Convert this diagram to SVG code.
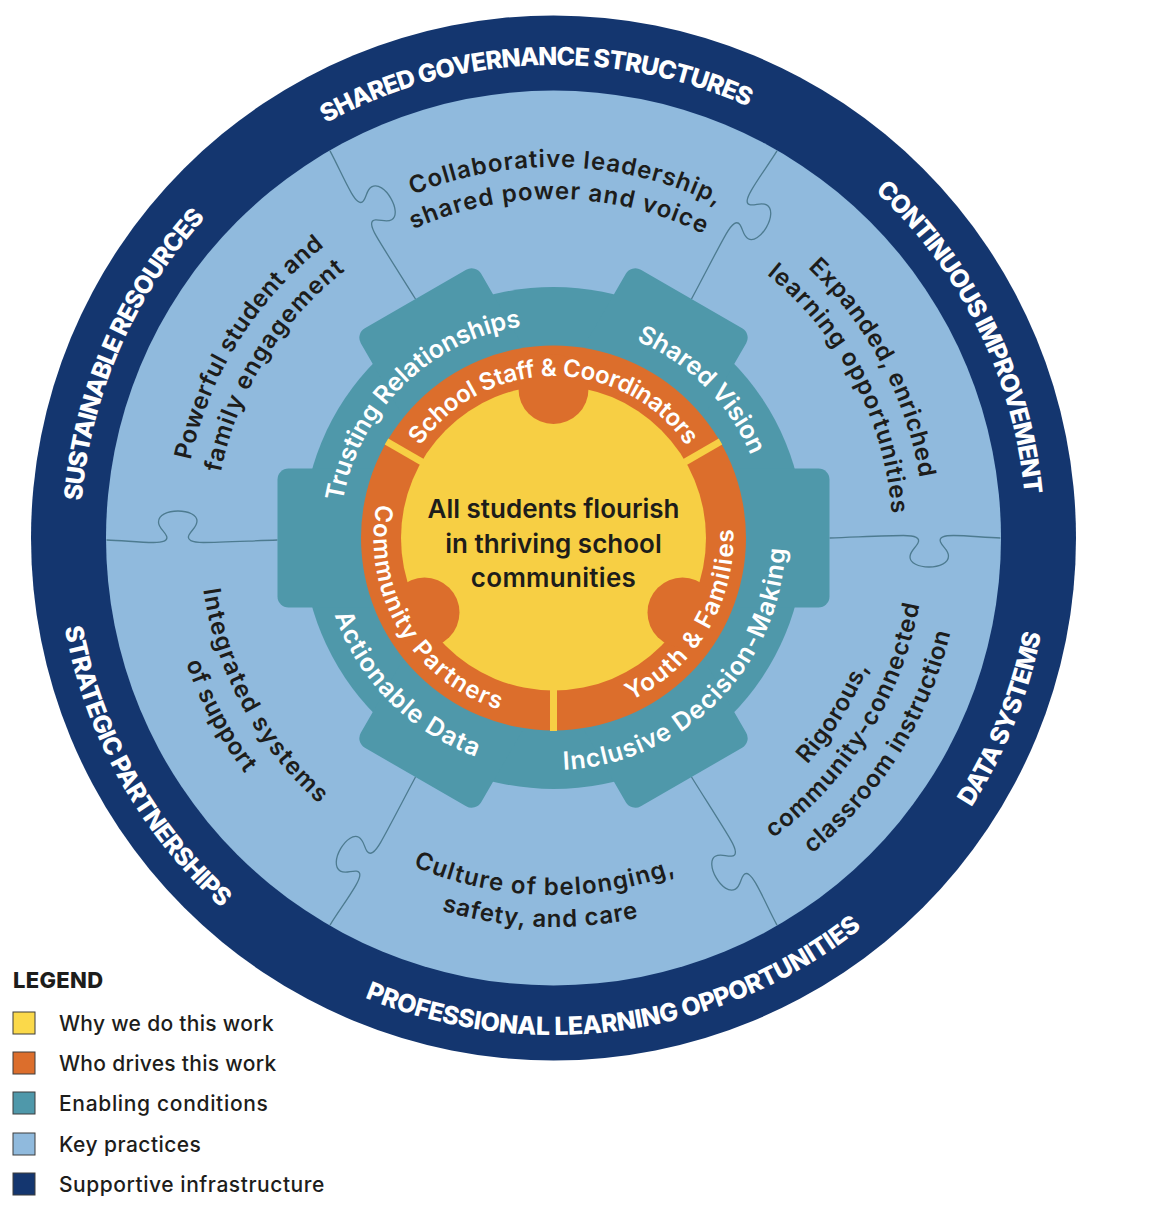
<svg xmlns="http://www.w3.org/2000/svg" xmlns:xlink="http://www.w3.org/1999/xlink" width="1167" height="1229" viewBox="0 0 1167 1229">
<style>
text{font-family:Inter,"Liberation Sans",sans-serif;text-anchor:middle}
.outer{font-size:25px;font-weight:800;fill:#fff;letter-spacing:-1px}
.prac{font-size:24px;font-weight:600;fill:#1d1d1b;letter-spacing:.6px}
.gear{font-size:25px;font-weight:600;fill:#fff;letter-spacing:-.1px}
.who{font-size:24px;font-weight:600;fill:#fff;letter-spacing:-.3px}
.core{font-size:26px;font-weight:600;fill:#1d1d1b}
.leg{font-size:21px;font-weight:500;fill:#1d1d1b;text-anchor:start;letter-spacing:.3px}
.sw{stroke:#3d3d3d;stroke-width:1}
.seam{fill:none;stroke:#4d7b90;stroke-width:1.3}
</style>
<defs>
<path id="c473" d="M80.5 538A473 473 0 0 1 1026.5 538"/>
<path id="a497" d="M56.5 538A497 497 0 0 0 1050.5 538"/>
<path id="c371" d="M182.5 538A371 371 0 0 1 924.5 538"/>
<path id="c339" d="M214.5 538A339 339 0 0 1 892.5 538"/>
<path id="a340" d="M213.5 538A340 340 0 0 0 893.5 538"/>
<path id="a372" d="M181.5 538A372 372 0 0 0 925.5 538"/>
<path id="a408" d="M145.5 538A408 408 0 0 0 961.5 538"/>
<path id="a357" d="M196.5 538A357 357 0 0 0 910.5 538"/>
<path id="a389" d="M164.5 538A389 389 0 0 0 942.5 538"/>
<path id="a354" d="M199.5 538A354 354 0 0 0 907.5 538"/>
<path id="a388" d="M165.5 538A388 388 0 0 0 941.5 538"/>
<path id="c214" d="M339.5 538A214 214 0 0 1 767.5 538"/>
<path id="a232" d="M321.5 538A232 232 0 0 0 785.5 538"/>
<path id="c162" d="M391.5 538A162 162 0 0 1 715.5 538"/>
<path id="a180" d="M373.5 538A180 180 0 0 0 733.5 538"/>
<rect id="tooth" x="0" y="-69.5" width="276" height="139" rx="11"/>
<path id="seam" d="M276 0C305-1 335-2.5 350-2.5C362-2.5 367 0 364.5 5C362 10 356.5 13 356.5 19C356.5 25 365 29 375.5 29C386 29 395 25 395 18C395 12 389 9 387 4C385-1 391-2.5 400-2.5C415-2.5 430-.5 447 0"/>
</defs>
<g id="infrastructure-ring">
<circle cx="553.5" cy="538" r="522.5" fill="#14366f"/>
<text class="outer" transform="rotate(-2.3 553.5 538)"><textPath href="#c473" startOffset="50%">SHARED GOVERNANCE STRUCTURES</textPath></text>
<text class="outer" style="letter-spacing:-1.1px" transform="rotate(63.7 553.5 538)"><textPath href="#c473" startOffset="50%">CONTINUOUS IMPROVEMENT</textPath></text>
<text class="outer" transform="rotate(-66.5 553.5 538)"><textPath href="#c473" startOffset="50%">SUSTAINABLE RESOURCES</textPath></text>
<text class="outer" style="letter-spacing:-.8px" transform="rotate(-68 553.5 538)"><textPath href="#a497" startOffset="50%">DATA SYSTEMS</textPath></text>
<text class="outer" style="letter-spacing:-.4px" transform="rotate(-8 553.5 538)"><textPath href="#a497" startOffset="50%">PROFESSIONAL LEARNING OPPORTUNITIES</textPath></text>
<text class="outer" style="letter-spacing:-.7px" transform="rotate(60.8 553.5 538)"><textPath href="#a497" startOffset="50%">STRATEGIC PARTNERSHIPS</textPath></text>
</g>
<g id="practices-disc"><circle cx="553.5" cy="538" r="447.5" fill="#90badd"/></g>
<g id="connectors" class="seam" transform="translate(553.5 538)">
<use href="#seam"/><use href="#seam" transform="rotate(60)"/><use href="#seam" transform="rotate(120)"/><use href="#seam" transform="rotate(180) translate(0 -2)"/><use href="#seam" transform="rotate(240)"/><use href="#seam" transform="rotate(300)"/>
</g>
<g id="practice-collaborative">
<text class="prac" style="letter-spacing:1px" transform="rotate(2 553.5 538)"><textPath href="#c371" startOffset="50%">Collaborative leadership,</textPath></text>
<text class="prac" style="letter-spacing:1.1px" transform="rotate(1 553.5 538)"><textPath href="#c339" startOffset="50%">shared power and voice</textPath></text>
</g>
<g id="practice-expanded">
<text class="prac" transform="rotate(62 553.5 538)"><textPath href="#c371" startOffset="50%">Expanded, enriched</textPath></text>
<text class="prac" style="letter-spacing:1px" transform="rotate(62.5 553.5 538)"><textPath href="#c339" startOffset="50%">learning opportunities</textPath></text>
</g>
<g id="practice-rigorous">
<text class="prac" transform="rotate(-58 553.5 538)"><textPath href="#a340" startOffset="50%">Rigorous,</textPath></text>
<text class="prac" style="letter-spacing:1px" transform="rotate(-58 553.5 538)"><textPath href="#a372" startOffset="50%">community-connected</textPath></text>
<text class="prac" style="letter-spacing:.7px" transform="rotate(-58 553.5 538)"><textPath href="#a408" startOffset="50%">classroom instruction</textPath></text>
</g>
<g id="practice-culture">
<text class="prac" style="letter-spacing:1.2px" transform="rotate(1.5 553.5 538)"><textPath href="#a357" startOffset="50%">Culture of belonging,</textPath></text>
<text class="prac" style="letter-spacing:.9px" transform="rotate(2 553.5 538)"><textPath href="#a389" startOffset="50%">safety, and care</textPath></text>
</g>
<g id="practice-integrated">
<text class="prac" style="letter-spacing:1.5px" transform="rotate(61.4 553.5 538)"><textPath href="#a354" startOffset="50%">Integrated systems</textPath></text>
<text class="prac" transform="rotate(61.9 553.5 538)"><textPath href="#a388" startOffset="50%">of support</textPath></text>
</g>
<g id="practice-powerful">
<text class="prac" style="letter-spacing:.5px" transform="rotate(-58 553.5 538)"><textPath href="#c371" startOffset="50%">Powerful student and</textPath></text>
<text class="prac" style="letter-spacing:1.2px" transform="rotate(-58.3 553.5 538)"><textPath href="#c339" startOffset="50%">family engagement</textPath></text>
</g>
<g id="conditions-gear">
<g fill="#4f98aa">
<circle cx="553.5" cy="538" r="251"/>
<g transform="translate(553.5 538)"><use href="#tooth"/><use href="#tooth" transform="rotate(60)"/><use href="#tooth" transform="rotate(120)"/><use href="#tooth" transform="rotate(180)"/><use href="#tooth" transform="rotate(240)"/><use href="#tooth" transform="rotate(300)"/></g>
</g>
<text class="gear" transform="rotate(-44.5 553.5 538)"><textPath href="#c214" startOffset="50%">Trusting Relationships</textPath></text>
<text class="gear" transform="rotate(45 553.5 538)"><textPath href="#c214" startOffset="50%">Shared Vision</textPath></text>
<text class="gear" style="letter-spacing:1px" transform="rotate(-45 553.5 538)"><textPath href="#a232" startOffset="50%">Inclusive Decision-Making</textPath></text>
<text class="gear" style="letter-spacing:1.1px" transform="rotate(44.9 553.5 538)"><textPath href="#a232" startOffset="50%">Actionable Data</textPath></text>
</g>
<g id="drivers-ring">
<circle cx="553.5" cy="538" r="192.5" fill="#dc6e2c"/>
<g stroke="#f7cf44" stroke-width="7"><path d="M553.5 538V731"/><path d="M553.5 538L720.5 441.5"/><path d="M553.5 538L386.5 441.5"/></g>
<circle cx="553.5" cy="538" r="152.5" fill="#f7cf44"/>
<g fill="#dc6e2c"><circle cx="553.5" cy="389" r="35"/><circle cx="682.5" cy="612.5" r="35"/><circle cx="424.5" cy="612.5" r="35"/></g>
<text class="who"><textPath href="#c162" startOffset="50%">School Staff &amp; Coordinators</textPath></text>
<text class="who" style="letter-spacing:1.3px" transform="rotate(59 553.5 538)"><textPath href="#a180" startOffset="50%">Community Partners</textPath></text>
<text class="who" style="letter-spacing:1.4px" transform="rotate(-59.3 553.5 538)"><textPath href="#a180" startOffset="50%">Youth &amp; Families</textPath></text>
</g>
<g id="core">
<text class="core" x="553.5" y="518">All students flourish</text>
<text class="core" x="553.5" y="553">in thriving school</text>
<text class="core" style="letter-spacing:.3px" x="553.5" y="587">communities</text>
</g>
<g id="legend">
<text x="13" y="988" style="font-size:22px;font-weight:800;fill:#1d1d1b;text-anchor:start;letter-spacing:.3px">LEGEND</text>
<rect class="sw" x="13" y="1012" width="22" height="22" fill="#fbd94a"/>
<rect class="sw" x="13" y="1052" width="22" height="22" fill="#dc6e2c"/>
<rect class="sw" x="13" y="1092" width="22" height="22" fill="#4f98aa"/>
<rect class="sw" x="13" y="1133" width="22" height="22" fill="#90badd"/>
<rect class="sw" x="13" y="1173" width="22" height="22" fill="#14366f"/>
<text class="leg" x="59" y="1031">Why we do this work</text>
<text class="leg" x="59" y="1071">Who drives this work</text>
<text class="leg" style="letter-spacing:.67px" x="59" y="1111">Enabling conditions</text>
<text class="leg" style="letter-spacing:.45px" x="59" y="1152">Key practices</text>
<text class="leg" style="letter-spacing:.54px" x="59" y="1192">Supportive infrastructure</text>
</g>
</svg>
